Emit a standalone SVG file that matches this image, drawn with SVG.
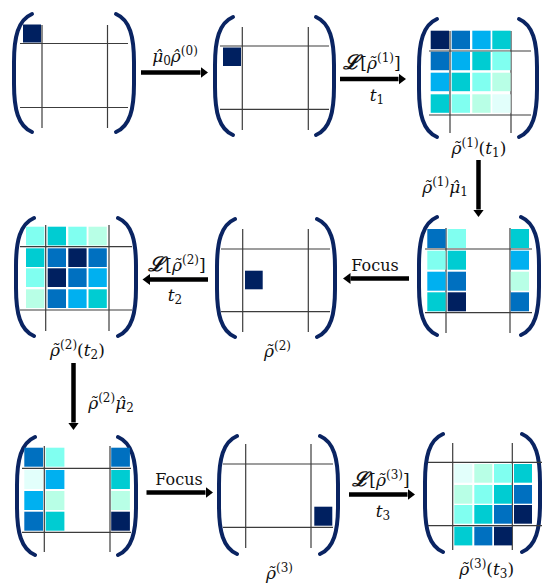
<svg xmlns="http://www.w3.org/2000/svg" xmlns:xlink="http://www.w3.org/1999/xlink" width="543" height="584" viewBox="0 0 543 584">
<style>
.g{stroke:#3c3c3c;stroke-width:1.2;fill:none}
.br{stroke:#0a2462;stroke-width:4;fill:none;stroke-linecap:round}
.ar{stroke:#000;stroke-width:4.5;fill:none}
.N{fill:#002060}.B{fill:#0070C0}.S{fill:#00B0F0}.T{fill:#00CCD2}.A{fill:#80FFF0}.M{fill:#B8FFE6}.P{fill:#E2FFFB}
text{font-family:"DejaVu Serif","Liberation Serif",serif;font-size:17px;fill:#111}
.i{font-style:italic}
.s{font-size:12px;font-style:normal}
.L{font-size:20px;font-style:italic;font-weight:bold}
.f{font-size:16px}
</style>
<defs>
<path id="lp" class="br" d="M20,2 C6,8 2,25 2,50 L2,72 C2,97 6,114 20,120"/>
<path id="rp" class="br" d="M2,2 C16,8 20,25 20,50 L20,72 C20,97 16,114 2,120"/>
<marker id="ah" markerUnits="userSpaceOnUse" markerWidth="8" markerHeight="11" refX="0" refY="5.5" orient="auto">
<path d="M0,0 L7.5,5.5 L0,11 Z" fill="#000"/>
</marker>
</defs>

<g id="m1">
<use xlink:href="#lp" x="12" y="12"/><use xlink:href="#rp" x="114" y="12"/>
<line class="g" x1="42" y1="25" x2="42" y2="128"/><line class="g" x1="107.5" y1="25" x2="107.5" y2="128"/>
<line class="g" x1="20" y1="43.5" x2="128" y2="43.5"/><line class="g" x1="20" y1="107.5" x2="128" y2="107.5"/>
<rect class="N" x="23" y="24.5" width="18" height="18"/>
</g>

<g id="m2">
<use xlink:href="#lp" x="213" y="15"/><use xlink:href="#rp" x="314" y="15"/>
<line class="g" x1="242.3" y1="27" x2="242.3" y2="130"/><line class="g" x1="308.3" y1="27" x2="308.3" y2="130"/>
<line class="g" x1="220" y1="46" x2="329" y2="46"/><line class="g" x1="220" y1="109.3" x2="329" y2="109.3"/>
<rect class="N" x="223" y="47.5" width="18" height="18.5"/>
</g>

<g id="m3">
<use xlink:href="#lp" x="417" y="17"/><use xlink:href="#rp" x="517" y="17"/>
<line class="g" x1="450" y1="31" x2="450" y2="133"/><line class="g" x1="511" y1="31" x2="511" y2="133"/>
<line class="g" x1="429" y1="51" x2="531" y2="51"/><line class="g" x1="429" y1="115" x2="531" y2="115"/>
<rect class="N" x="430.7" y="30.7" width="18.3" height="18.5"/><rect class="B" x="451.7" y="30.7" width="18.3" height="18.5"/><rect class="S" x="472.3" y="30.7" width="18.3" height="18.5"/><rect class="T" x="492.3" y="30.7" width="18.3" height="18.5"/>
<rect class="B" x="430.7" y="51.7" width="18.3" height="18.5"/><rect class="S" x="451.7" y="51.7" width="18.3" height="18.5"/><rect class="T" x="472.3" y="51.7" width="18.3" height="18.5"/><rect class="A" x="492.3" y="51.7" width="18.3" height="18.5"/>
<rect class="S" x="430.7" y="72.7" width="18.3" height="18.5"/><rect class="T" x="451.7" y="72.7" width="18.3" height="18.5"/><rect class="A" x="472.3" y="72.7" width="18.3" height="18.5"/><rect class="M" x="492.3" y="72.7" width="18.3" height="18.5"/>
<rect class="T" x="430.7" y="94.3" width="18.3" height="18.5"/><rect class="A" x="451.7" y="94.3" width="18.3" height="18.5"/><rect class="M" x="472.3" y="94.3" width="18.3" height="18.5"/><rect class="P" x="492.3" y="94.3" width="18.3" height="18.5"/>
<text x="479" y="154" text-anchor="middle"><tspan class="i">ρ̃</tspan><tspan class="s" dy="-7">(1)</tspan><tspan dy="7">(</tspan><tspan class="i">t</tspan><tspan class="s" dy="3">1</tspan><tspan dy="-3">)</tspan></text>
</g>

<g id="m4">
<use xlink:href="#lp" x="417" y="215"/><use xlink:href="#rp" x="519" y="215"/>
<line class="g" x1="446" y1="228" x2="446" y2="333"/><line class="g" x1="510" y1="228" x2="510" y2="333"/>
<line class="g" x1="425" y1="249" x2="532" y2="249"/><line class="g" x1="425" y1="312.7" x2="532" y2="312.7"/>
<rect class="B" x="427.3" y="229" width="18.3" height="19"/><rect class="A" x="447.7" y="229" width="18.3" height="19"/><rect class="T" x="510.7" y="229" width="18.3" height="19"/>
<rect class="A" x="427.3" y="250.7" width="18.3" height="19"/><rect class="T" x="447.7" y="250.7" width="18.3" height="19"/><rect class="S" x="510.7" y="250.7" width="18.3" height="19"/>
<rect class="S" x="427.3" y="271.7" width="18.3" height="19"/><rect class="B" x="447.7" y="271.7" width="18.3" height="19"/><rect class="M" x="510.7" y="271.7" width="18.3" height="19"/>
<rect class="T" x="427.3" y="292.3" width="18.3" height="19"/><rect class="N" x="447.7" y="292.3" width="18.3" height="19"/><rect class="B" x="510.7" y="292.3" width="18.3" height="19"/>
</g>

<g id="m5">
<use xlink:href="#lp" x="215" y="217"/><use xlink:href="#rp" x="315" y="217"/>
<line class="g" x1="242.7" y1="229" x2="242.7" y2="332"/><line class="g" x1="308.3" y1="229" x2="308.3" y2="332"/>
<line class="g" x1="221" y1="249" x2="330" y2="249"/><line class="g" x1="221" y1="311.7" x2="330" y2="311.7"/>
<rect class="N" x="245" y="270.7" width="17.7" height="18.6"/>
<text x="277.5" y="357" text-anchor="middle"><tspan class="i">ρ̃</tspan><tspan class="s" dy="-7">(2)</tspan></text>
</g>

<g id="m6">
<use xlink:href="#lp" x="14" y="216"/><use xlink:href="#rp" x="116" y="216"/>
<line class="g" x1="45.7" y1="225" x2="45.7" y2="331"/><line class="g" x1="109" y1="225" x2="109" y2="331"/>
<line class="g" x1="20" y1="246.7" x2="132" y2="246.7"/><line class="g" x1="20" y1="310" x2="132" y2="310"/>
<rect class="A" x="26" y="226.7" width="18.3" height="18.7"/><rect class="T" x="47.7" y="226.7" width="18.3" height="18.7"/><rect class="A" x="68.3" y="226.7" width="18.3" height="18.7"/><rect class="M" x="88.5" y="226.7" width="18.3" height="18.7"/>
<rect class="T" x="26" y="248.3" width="18.3" height="18.7"/><rect class="B" x="47.7" y="248.3" width="18.3" height="18.7"/><rect class="N" x="68.3" y="248.3" width="18.3" height="18.7"/><rect class="B" x="88.5" y="248.3" width="18.3" height="18.7"/>
<rect class="A" x="26" y="268.3" width="18.3" height="18.7"/><rect class="N" x="47.7" y="268.3" width="18.3" height="18.7"/><rect class="B" x="68.3" y="268.3" width="18.3" height="18.7"/><rect class="S" x="88.5" y="268.3" width="18.3" height="18.7"/>
<rect class="M" x="26" y="289.3" width="18.3" height="18.7"/><rect class="B" x="47.7" y="289.3" width="18.3" height="18.7"/><rect class="S" x="68.3" y="289.3" width="18.3" height="18.7"/><rect class="T" x="88.5" y="289.3" width="18.3" height="18.7"/>
<text x="77.5" y="356" text-anchor="middle"><tspan class="i">ρ̃</tspan><tspan class="s" dy="-7">(2)</tspan><tspan dy="7">(</tspan><tspan class="i">t</tspan><tspan class="s" dy="3">2</tspan><tspan dy="-3">)</tspan></text>
</g>

<g id="m7">
<use xlink:href="#lp" x="15" y="435"/><use xlink:href="#rp" x="116" y="435"/>
<line class="g" x1="44.3" y1="446" x2="44.3" y2="552"/><line class="g" x1="110" y1="446" x2="110" y2="552"/>
<line class="g" x1="22" y1="468.3" x2="131" y2="468.3"/><line class="g" x1="22" y1="532.3" x2="131" y2="532.3"/>
<rect class="B" x="24.3" y="447.7" width="18.7" height="19"/><rect class="A" x="45.7" y="447.7" width="18.7" height="19"/><rect class="B" x="111.2" y="447.7" width="18.7" height="19"/>
<rect class="P" x="24.3" y="470" width="18.7" height="19"/><rect class="S" x="45.7" y="470" width="18.7" height="19"/><rect class="T" x="111.2" y="470" width="18.7" height="19"/>
<rect class="S" x="24.3" y="491" width="18.7" height="19"/><rect class="M" x="45.7" y="491" width="18.7" height="19"/><rect class="M" x="111.2" y="491" width="18.7" height="19"/>
<rect class="B" x="24.3" y="511.7" width="18.7" height="19"/><rect class="T" x="45.7" y="511.7" width="18.7" height="19"/><rect class="N" x="111.2" y="511.7" width="18.7" height="19"/>
</g>

<g id="m8">
<use xlink:href="#lp" x="217" y="434"/><use xlink:href="#rp" x="318" y="434"/>
<line class="g" x1="245.7" y1="444" x2="245.7" y2="548"/><line class="g" x1="311" y1="444" x2="311" y2="548"/>
<line class="g" x1="223" y1="464" x2="333" y2="464"/><line class="g" x1="223" y1="527.3" x2="333" y2="527.3"/>
<rect class="N" x="314.3" y="506.7" width="18" height="19"/>
<text x="279.5" y="579" text-anchor="middle"><tspan class="i">ρ̃</tspan><tspan class="s" dy="-7">(3)</tspan></text>
</g>

<g id="m9">
<use xlink:href="#lp" x="423" y="432"/><use xlink:href="#rp" x="520" y="432"/>
<line class="g" x1="452.7" y1="443" x2="452.7" y2="550"/><line class="g" x1="512.3" y1="443" x2="512.3" y2="550"/>
<line class="g" x1="428" y1="462.3" x2="542" y2="462.3"/><line class="g" x1="428" y1="525.7" x2="542" y2="525.7"/>
<rect class="P" x="454.3" y="464" width="18" height="18.7"/><rect class="M" x="474.3" y="464" width="18" height="18.7"/><rect class="A" x="494" y="464" width="18" height="18.7"/><rect class="T" x="514" y="464" width="18" height="18.7"/>
<rect class="M" x="454.3" y="485" width="18" height="18.7"/><rect class="A" x="474.3" y="485" width="18" height="18.7"/><rect class="T" x="494" y="485" width="18" height="18.7"/><rect class="B" x="514" y="485" width="18" height="18.7"/>
<rect class="A" x="454.3" y="505" width="18" height="18.7"/><rect class="T" x="474.3" y="505" width="18" height="18.7"/><rect class="B" x="494" y="505" width="18" height="18.7"/><rect class="N" x="514" y="505" width="18" height="18.7"/>
<rect class="T" x="454.3" y="526.7" width="18" height="18.7"/><rect class="B" x="474.3" y="526.7" width="18" height="18.7"/><rect class="N" x="494" y="526.7" width="18" height="18.7"/>
<text x="486.7" y="575" text-anchor="middle"><tspan class="i">ρ̃</tspan><tspan class="s" dy="-7">(3)</tspan><tspan dy="7">(</tspan><tspan class="i">t</tspan><tspan class="s" dy="3">3</tspan><tspan dy="-3">)</tspan></text>
</g>

<g id="connectors">
<line class="ar" x1="141" y1="72.5" x2="200.5" y2="72.5" marker-end="url(#ah)"/>
<line class="ar" x1="340" y1="79" x2="398.5" y2="79" marker-end="url(#ah)"/>
<line class="ar" x1="478.5" y1="160" x2="478.5" y2="209.5" marker-end="url(#ah)"/>
<line class="ar" x1="409" y1="278.5" x2="350.5" y2="278.5" marker-end="url(#ah)"/>
<line class="ar" x1="208" y1="279.5" x2="150" y2="279.5" marker-end="url(#ah)"/>
<line class="ar" x1="73.5" y1="363" x2="73.5" y2="422.5" marker-end="url(#ah)"/>
<line class="ar" x1="146.5" y1="492.5" x2="205.5" y2="492.5" marker-end="url(#ah)"/>
<line class="ar" x1="349" y1="494.5" x2="407.5" y2="494.5" marker-end="url(#ah)"/>
<text x="175" y="62" text-anchor="middle"><tspan class="i">μ̂</tspan><tspan class="s" dy="3">0</tspan><tspan class="i" dy="-3">ρ̂</tspan><tspan class="s" dy="-7">(0)</tspan></text>
<text x="372" y="69" text-anchor="middle"><tspan class="L">ℒ</tspan>[<tspan class="i">ρ̃</tspan><tspan class="s" dy="-7">(1)</tspan><tspan dy="7">]</tspan></text>
<text x="377" y="101" text-anchor="middle"><tspan class="i">t</tspan><tspan class="s" dy="3">1</tspan></text>
<text x="445" y="193" text-anchor="middle"><tspan class="i">ρ̃</tspan><tspan class="s" dy="-7">(1)</tspan><tspan class="i" dy="7">μ̂</tspan><tspan class="s" dy="3">1</tspan></text>
<text class="f" x="375" y="271" text-anchor="middle">Focus</text>
<text x="177" y="271" text-anchor="middle"><tspan class="L">ℒ</tspan>[<tspan class="i">ρ̃</tspan><tspan class="s" dy="-7">(2)</tspan><tspan dy="7">]</tspan></text>
<text x="175" y="301" text-anchor="middle"><tspan class="i">t</tspan><tspan class="s" dy="3">2</tspan></text>
<text x="111" y="409" text-anchor="middle"><tspan class="i">ρ̃</tspan><tspan class="s" dy="-7">(2)</tspan><tspan class="i" dy="7">μ̂</tspan><tspan class="s" dy="3">2</tspan></text>
<text class="f" x="179" y="485" text-anchor="middle">Focus</text>
<text x="381" y="486" text-anchor="middle"><tspan class="L">ℒ</tspan>[<tspan class="i">ρ̃</tspan><tspan class="s" dy="-7">(3)</tspan><tspan dy="7">]</tspan></text>
<text x="383" y="517" text-anchor="middle"><tspan class="i">t</tspan><tspan class="s" dy="3">3</tspan></text>
</g>
</svg>
